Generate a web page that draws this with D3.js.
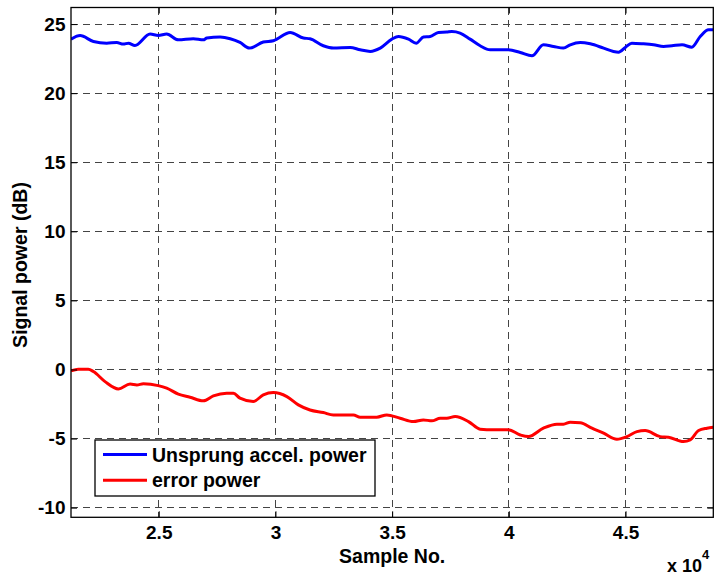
<!DOCTYPE html>
<html>
<head>
<meta charset="utf-8">
<script src="https://cdn.jsdelivr.net/npm/d3@7"></script>
<style>
  body { margin: 0; background: #fff; }
  svg { display: block; }
  text { font-family: "Liberation Sans", Arial, sans-serif; font-weight: bold; fill: #000; }
</style>
</head>
<body>
<div id="chart"></div>
<script>
// Signal power plot (MATLAB style)

// blue series: unsprung acceleration power
const accelSamples = [21240, 21630, 22200, 22770, 23200, 23480, 23700, 23980, 24630, 24980,
  25340, 25840, 26480, 26910, 27060, 27630, 28060, 28480, 28880, 29480,
  29910, 30060, 30630, 31200, 31480, 32050, 32480, 33200, 33630, 34060,
  34490, 34990, 35270, 35700, 36030, 36340, 36630, 36980, 37340, 37560,
  37910, 38340, 38770, 39200, 39980, 40490, 40990, 41480, 41910, 42340,
  42630, 43060, 43490, 44060, 44480, 44700, 44990, 45270, 45770, 46200,
  46630, 46990, 47420, 47840, 48200, 48560, 48760];
const accelPower = [23.91, 24.17, 23.74, 23.62, 23.67, 23.55, 23.62, 23.45, 24.28, 24.17,
  24.28, 23.86, 23.94, 23.86, 23.99, 24.06, 23.94, 23.67, 23.26, 23.70,
  23.79, 23.91, 24.39, 23.99, 23.94, 23.43, 23.26, 23.31, 23.14, 23.02,
  23.26, 23.91, 24.10, 23.91, 23.62, 24.06, 24.10, 24.39, 24.42, 24.46,
  24.35, 23.91, 23.43, 23.14, 23.14, 22.94, 22.70, 23.50, 23.38, 23.26,
  23.50, 23.67, 23.57, 23.26, 23.02, 22.97, 23.31, 23.62, 23.57, 23.50,
  23.38, 23.43, 23.50, 23.33, 24.10, 24.59, 24.59];

// red series: error power
const errorSamples = [21240, 21550, 21980, 22200, 22700, 23270, 23770, 24060, 24340, 24980,
  25340, 25840, 26340, 26910, 27340, 27910, 28200, 28480, 29050, 29480,
  29910, 30490, 30980, 31480, 32050, 32480, 33340, 33630, 34340, 34770,
  35340, 35910, 36340, 36700, 37060, 37340, 37700, 38270, 38770, 39340,
  39980, 40490, 40840, 41480, 42060, 42340, 42630, 43060, 43560, 44060,
  44630, 45060, 45490, 45840, 46490, 46840, 47480, 47770, 48130, 48490, 48760];
const errorPower = [-0.10, 0.02, 0.02, -0.15, -0.88, -1.41, -1.06, -1.12, -1.04, -1.17,
  -1.35, -1.79, -2.01, -2.27, -1.91, -1.72, -1.72, -2.08, -2.32, -1.84,
  -1.67, -1.96, -2.56, -2.93, -3.12, -3.29, -3.29, -3.45, -3.45, -3.29,
  -3.53, -3.77, -3.65, -3.72, -3.53, -3.53, -3.41, -3.77, -4.32, -4.37,
  -4.37, -4.74, -4.86, -4.25, -3.96, -3.96, -3.82, -3.85, -4.25, -4.61,
  -5.05, -4.86, -4.50, -4.42, -4.86, -4.90, -5.22, -5.10, -4.42, -4.25, -4.18];

const xTicks = [25000, 30000, 35000, 40000, 45000];
const xTickLabels = ["2.5", "3", "3.5", "4", "4.5"];
const yTicks = [-10, -5, 0, 5, 10, 15, 20, 25];
const yTickLabels = ["-10", "-5", "0", "5", "10", "15", "20", "25"];
const legendLabels = ["Unsprung accel. power", "error power"];
const seriesColors = ["#0000ff", "#ff0000"];

const width = 716, height = 578;
const margin = {top: 7.5, right: 2.7, bottom: 60.7, left: 71};
const plotW = width - margin.left - margin.right;
const plotH = height - margin.top - margin.bottom;

const svg = d3.select("#chart").append("svg")
  .attr("width", width).attr("height", height);

const x = d3.scaleLinear().domain([21240, 48760]).range([0, plotW]);
const y = d3.scaleLinear().domain([-10.7, 26.2]).range([plotH, 0]);

const g = svg.append("g").attr("transform", `translate(${margin.left},${margin.top})`);

svg.append("defs").append("clipPath").attr("id", "plotclip")
  .append("rect").attr("width", plotW).attr("height", plotH);

// dashed grid
const grid = g.append("g").attr("stroke", "#444").attr("stroke-width", 1)
  .attr("stroke-dasharray", "7,5").attr("shape-rendering", "crispEdges");
grid.selectAll("line.gx").data(xTicks).enter().append("line")
  .attr("x1", d => x(d)).attr("x2", d => x(d)).attr("y1", 0).attr("y2", plotH);
grid.selectAll("line.gy").data(yTicks).enter().append("line")
  .attr("y1", d => y(d)).attr("y2", d => y(d)).attr("x1", 0).attr("x2", plotW);

// series
const line = d3.line().x(d => x(d[0])).y(d => y(d[1])).curve(d3.curveMonotoneX);
const plotArea = g.append("g").attr("clip-path", "url(#plotclip)");
const seriesData = [
  d3.zip(accelSamples, accelPower),
  d3.zip(errorSamples, errorPower)
];
plotArea.selectAll("path").data(seriesData).enter().append("path")
  .attr("d", line)
  .attr("fill", "none")
  .attr("stroke", (d, i) => seriesColors[i])
  .attr("stroke-width", 3)
  .attr("stroke-linejoin", "round");

// axes, ticks inward
const xAxis = d3.axisBottom(x).tickValues(xTicks).tickSize(-6).tickPadding(8.5)
  .tickFormat((d, i) => xTickLabels[i]);
const yAxis = d3.axisLeft(y).tickValues(yTicks).tickSize(-6).tickPadding(5.5)
  .tickFormat((d, i) => yTickLabels[i]);

g.append("g").attr("transform", `translate(0,${plotH})`).call(xAxis);
g.append("g").call(yAxis);
g.append("g").call(d3.axisTop(x).tickValues(xTicks).tickSize(-6).tickFormat(""));
g.append("g").attr("transform", `translate(${plotW},0)`)
  .call(d3.axisRight(y).tickValues(yTicks).tickSize(-6).tickFormat(""));

g.selectAll(".domain").remove();
g.selectAll(".tick line").attr("stroke", "#000");
g.selectAll(".tick text").style("font-size", "19px").style("font-family", "Liberation Sans, Arial, sans-serif")
  .style("font-weight", "bold").attr("fill", "#000");

g.append("rect").attr("width", plotW).attr("height", plotH)
  .attr("fill", "none").attr("stroke", "#000").attr("stroke-width", 1.3);

// labels
svg.append("text").attr("x", margin.left + plotW / 2).attr("y", 563)
  .attr("text-anchor", "middle").style("font-size", "19.5px").text("Sample No.");
svg.append("text").attr("transform", "translate(27,265) rotate(-90)")
  .attr("text-anchor", "middle").style("font-size", "19.5px").text("Signal power (dB)");
const expo = svg.append("text").attr("x", 667).attr("y", 572).style("font-size", "18px");
expo.append("tspan").text("x 10");
expo.append("tspan").attr("dy", -13).style("font-size", "13px").text("4");

// legend
const legend = svg.append("g").attr("transform", "translate(95,440)");
legend.append("rect").attr("width", 280).attr("height", 56)
  .attr("fill", "#fff").attr("stroke", "#000").attr("stroke-width", 1.3);
const items = legend.selectAll("g.item").data(legendLabels).enter().append("g")
  .attr("transform", (d, i) => `translate(0,${14.5 + i * 25.7})`);
items.append("line").attr("x1", 8).attr("x2", 52).attr("y1", 0).attr("y2", 0)
  .attr("stroke", (d, i) => seriesColors[i]).attr("stroke-width", 3);
items.append("text").attr("x", 57).attr("y", 7).style("font-size", "19.5px").text(d => d);
</script>
</body>
</html>
